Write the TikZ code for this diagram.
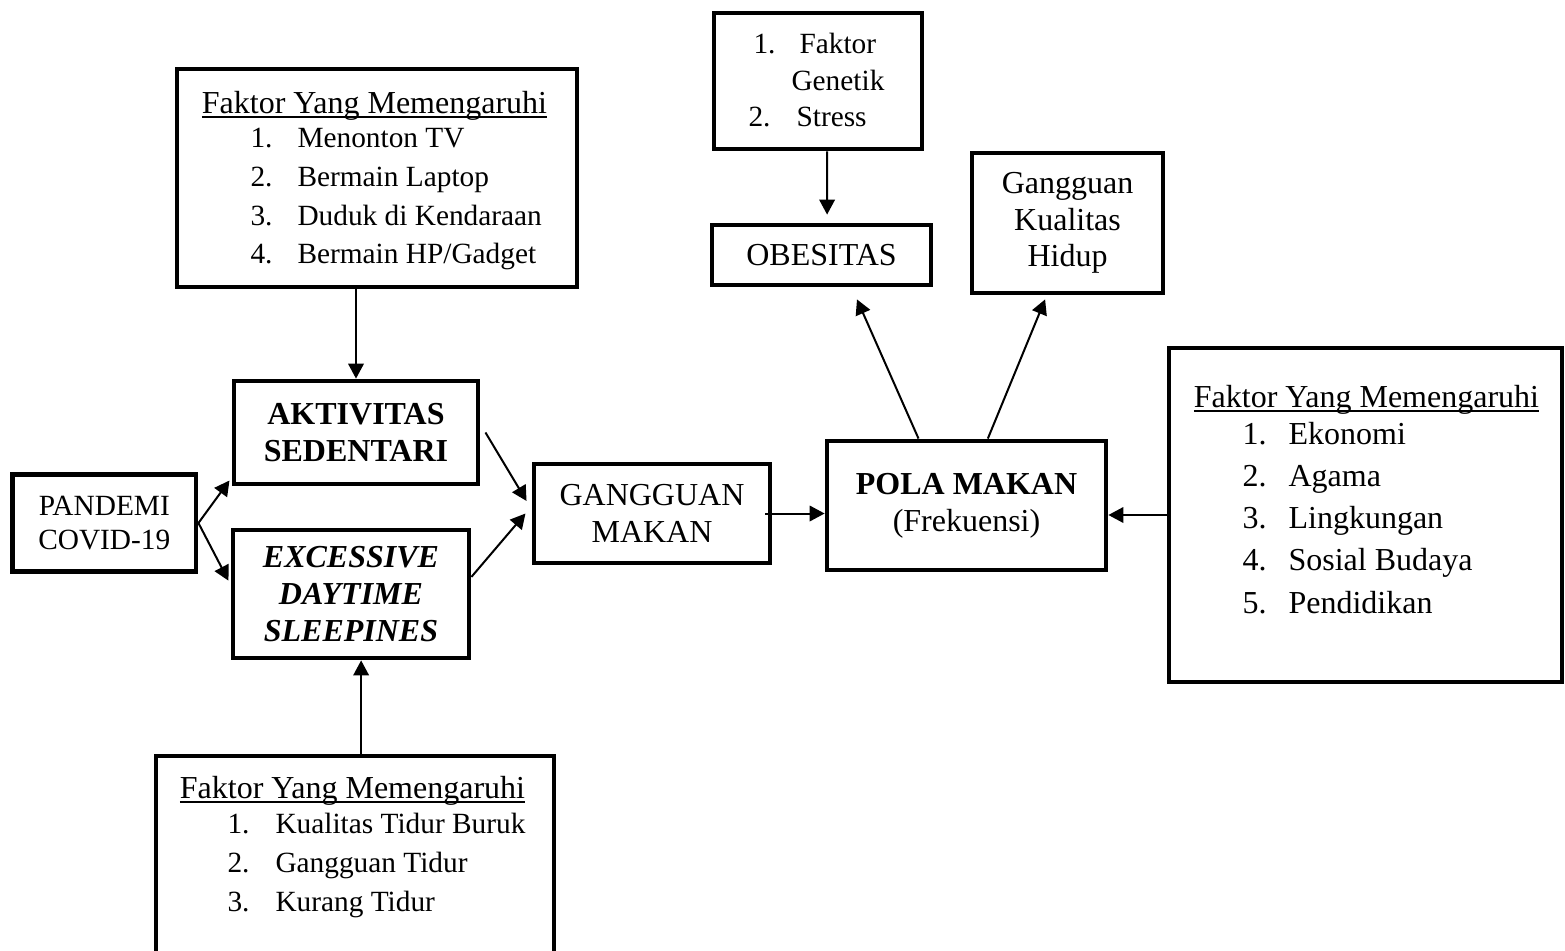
\documentclass[tikz,border=0pt]{standalone}
\usepackage{fontspec}
\setmainfont{Liberation Serif}
\usetikzlibrary{arrows.meta}
\tikzset{
  kotak/.style={draw, line width=1.8pt, align=center, inner sep=0pt, font=\fontsize{12}{13.8}\selectfont},
  panah/.style={line width=0.75pt, -{Triangle[length=5.6pt,width=5.8pt]}},
  teks/.style={anchor=base west, inner sep=0pt, font=\fontsize{12}{14}\selectfont},
  tekskecil/.style={teks, font=\fontsize{11}{13}\selectfont},
  judul/.style={anchor=base, inner sep=0pt, font=\fontsize{12}{14}\selectfont},
}
\newcommand{\garis}[1]{\setbox0\hbox{#1}\rlap{\rule[-1.8pt]{\wd0}{0.75pt}}\box0}
\newcommand{\butir}[7][teks]{\node[#1] (#2a) at (#3,#5) {#6.}; \node[#1] (#2b) at (#4,#5) {#7};}

\begin{document}
\begin{tikzpicture}[x=0.375pt, y=-0.375pt]
	\useasboundingbox (0,0) rectangle (1565,950);
	% kotak utama
	\node[kotak, minimum width=68.8pt, minimum height=36.6pt, font=\fontsize{11}{13.1}\selectfont] (pandemi) at (104.3,523) {PANDEMI\\COVID-19};
	\node[kotak, minimum width=91.5pt, minimum height=38.6pt, font=\fontsize{12}{14.2}\selectfont\bfseries] (aktivitas) at (356,432.5) {AKTIVITAS\\SEDENTARI};
	\node[kotak, minimum width=88.5pt, minimum height=48pt, font=\fontsize{12}{14}\selectfont\bfseries\itshape] (eds) at (351,594) {EXCESSIVE\\DAYTIME\\SLEEPINES};
	\node[kotak, minimum width=88.5pt, minimum height=37.1pt] (gangmakan) at (652,513.5) {GANGGUAN\\MAKAN};
	\node[kotak, minimum width=104.6pt, minimum height=48.4pt] (pola) at (966.5,505.5) {\textbf{POLA MAKAN}\\(Frekuensi)};
	\node[kotak, minimum width=82.1pt, minimum height=22.5pt] (obesitas) at (821.5,255) {OBESITAS};
	\node[kotak, minimum width=71.6pt, minimum height=52.5pt] (kualitas) at (1067.5,223) {Gangguan\\Kualitas\\Hidup};
	% kotak faktor
	\node[kotak, minimum width=150pt, minimum height=81.75pt] (fsedentari) at (377,178) {};
	\node[kotak, minimum width=149.25pt, minimum height=87.75pt] (ftidur) at (355,873) {};
	\node[kotak, minimum width=147.4pt, minimum height=125.25pt] (fpola) at (1365.5,515) {};
	\node[kotak, minimum width=78pt, minimum height=51pt] (fobes) at (818,81) {};
	% isi faktor sedentari
	\node[judul] (jsedentari) at (374.5,113) {\garis{Faktor Yang Memengaruhi}};
	\butir[tekskecil]{sa}{250}{297}{147}{1}{Menonton TV}
	\butir[tekskecil]{sb}{250}{297}{186}{2}{Bermain Laptop}
	\butir[tekskecil]{sc}{250}{297}{225}{3}{Duduk di Kendaraan}
	\butir[tekskecil]{sd}{250}{297}{263}{4}{Bermain HP/Gadget}
	% isi faktor tidur
	\node[judul] (jtidur) at (352.5,798) {\garis{Faktor Yang Memengaruhi}};
	\butir[tekskecil]{ta}{227}{275}{833}{1}{Kualitas Tidur Buruk}
	\butir[tekskecil]{tb}{227}{275}{872}{2}{Gangguan Tidur}
	\butir[tekskecil]{tc}{227}{275}{911}{3}{Kurang Tidur}
	% isi faktor pola makan
	\node[judul] (jpola) at (1366.5,407) {\garis{Faktor Yang Memengaruhi}};
	\butir{pa}{1242}{1288}{444}{1}{Ekonomi}
	\butir{pb}{1242}{1288}{486}{2}{Agama}
	\butir{pc}{1242}{1288}{528}{3}{Lingkungan}
	\butir{pd}{1242}{1288}{570}{4}{Sosial Budaya}
	\butir{pe}{1242}{1288}{613}{5}{Pendidikan}
	% isi faktor obesitas
	\node[tekskecil] (oa1) at (753,53) {1.};
	\node[tekskecil] (oa2) at (799,53) {Faktor};
	\node[tekskecil] (oa3) at (791,90) {Genetik};
	\node[tekskecil] (ob1) at (748,126) {2.};
	\node[tekskecil] (ob2) at (796,126) {Stress};
	% panah
	\draw[panah] (aktivitas.north |- fsedentari.south) -- (aktivitas.north);
	\draw[panah] ([xshift=2.3pt]ftidur.north) -- ([xshift=2.3pt]ftidur.north |- eds.south);
	\draw[panah] (pandemi.east) -- ([xshift=-0.8pt,yshift=2.2pt]aktivitas.south west);
	\draw[panah] (pandemi.east) -- ([xshift=-0.8pt,yshift=5pt]eds.west);
	\draw[panah] ([xshift=1.9pt]aktivitas.east) -- ([xshift=-1.9pt,yshift=4.7pt]gangmakan.west);
	\draw[panah] ([yshift=6.4pt]eds.east) -- ([xshift=-2.3pt]gangmakan.west);
	\draw[panah] ([xshift=-2.6pt]gangmakan.east) -- (gangmakan.east -| pola.west);
	\draw[panah] (fpola.west) -- (fpola.west -| pola.east);
	\draw[panah] ([xshift=-18pt]pola.north) -- ([xshift=13.3pt,yshift=-4.5pt]obesitas.south);
	\draw[panah] ([xshift=8pt]pola.north) -- ([xshift=-8.4pt,yshift=-1.5pt]kualitas.south);
	\draw[panah] ([xshift=3.4pt]fobes.south) -- ([xshift=2.1pt,yshift=3pt]obesitas.north);
\end{tikzpicture}
\end{document}
